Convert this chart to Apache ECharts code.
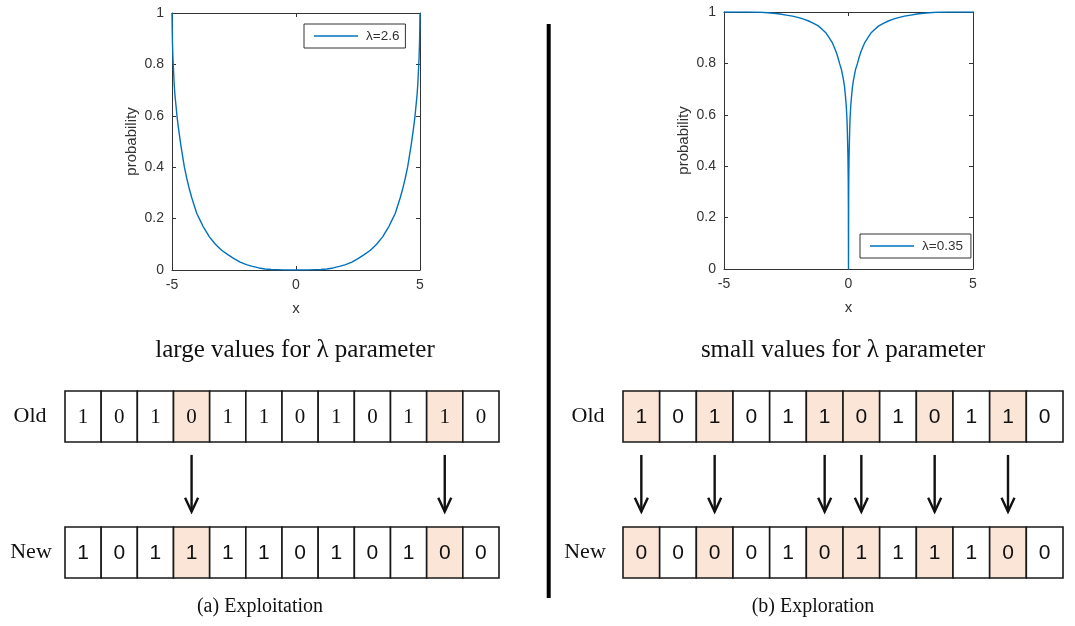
<!DOCTYPE html>
<html>
<head>
<meta charset="utf-8">
<title>Exploitation vs exploration</title>
<script src="https://cdn.jsdelivr.net/npm/echarts@6/dist/echarts.min.js"></script>
<style>
  html, body { margin: 0; padding: 0; background: #fff; }
  #chart { width: 1075px; height: 626px; }
</style>
</head>
<body>
<div id="chart"></div>
<script>
// Probability curve, large lambda (U shape)
const xHigh = [-5, -4.99, -4.98, -4.96, -4.94, -4.91, -4.88, -4.84, -4.8, -4.75, -4.7, -4.65, -4.6, -4.5, -4.4, -4.3, -4.2, -4.1, -4,
               -3.875, -3.75, -3.625, -3.5, -3.25, -3, -2.75, -2.5, -2.25, -2, -1.75, -1.5, -1.25, -1, -0.5, 0,
               0.5, 1, 1.25, 1.5, 1.75, 2, 2.25, 2.5, 2.75, 3, 3.25, 3.5, 3.625, 3.75, 3.875,
               4, 4.1, 4.2, 4.3, 4.4, 4.5, 4.6, 4.65, 4.7, 4.75, 4.8, 4.84, 4.88, 4.91, 4.94, 4.96, 4.98, 4.99, 5];
const pHigh = [1, 0.93, 0.88, 0.82, 0.78, 0.72, 0.68, 0.64, 0.6, 0.56, 0.525, 0.49, 0.46, 0.4, 0.355, 0.315, 0.28, 0.25, 0.22,
               0.195, 0.17, 0.15, 0.13, 0.1, 0.077, 0.06, 0.044, 0.031, 0.021, 0.014, 0.008, 0.004, 0.002, 0.0003, 0,
               0.0003, 0.002, 0.004, 0.008, 0.014, 0.021, 0.031, 0.044, 0.06, 0.077, 0.1, 0.13, 0.15, 0.17, 0.195,
               0.22, 0.25, 0.28, 0.315, 0.355, 0.4, 0.46, 0.49, 0.525, 0.56, 0.6, 0.64, 0.68, 0.72, 0.78, 0.82, 0.88, 0.93, 1];

// Probability curve, small lambda (narrow dip at zero)
const xLow = [-5, -4, -3.5, -3, -2.75, -2.5, -2.25, -2, -1.8, -1.6, -1.4, -1.2, -1.05, -0.9, -0.78, -0.66, -0.58, -0.5, -0.43, -0.36,
              -0.28, -0.2, -0.16, -0.12, -0.09, -0.06, -0.045, -0.03, -0.02, -0.01, -0.005, 0,
              0.005, 0.01, 0.02, 0.03, 0.045, 0.06, 0.09, 0.12, 0.16, 0.2, 0.28, 0.36, 0.43, 0.5, 0.58, 0.66, 0.78, 0.9,
              1.05, 1.2, 1.4, 1.6, 1.8, 2, 2.25, 2.5, 2.75, 3, 3.5, 4, 5];
const pLow = [1, 1, 0.999, 0.995, 0.992, 0.988, 0.984, 0.978, 0.972, 0.965, 0.956, 0.945, 0.932, 0.918, 0.9, 0.882, 0.865, 0.845, 0.825, 0.8,
              0.775, 0.735, 0.71, 0.67, 0.635, 0.58, 0.53, 0.47, 0.42, 0.34, 0.25, 0,
              0.25, 0.34, 0.42, 0.47, 0.53, 0.58, 0.635, 0.67, 0.71, 0.735, 0.775, 0.8, 0.825, 0.845, 0.865, 0.882, 0.9, 0.918,
              0.932, 0.945, 0.956, 0.965, 0.972, 0.978, 0.984, 0.988, 0.992, 0.995, 0.999, 1, 1];

const seriesNames = ['\u03bb=2.6', '\u03bb=0.35'];
const xTicks = [-5, 0, 5];
const yTickStep = 0.2;

// Bit strings before / after the mutation step
const exploitOld = [1, 0, 1, 0, 1, 1, 0, 1, 0, 1, 1, 0];
const exploitNew = [1, 0, 1, 1, 1, 1, 0, 1, 0, 1, 0, 0];
const exploreOld = [1, 0, 1, 0, 1, 1, 0, 1, 0, 1, 1, 0];
const exploreNew = [0, 0, 0, 0, 1, 0, 1, 1, 1, 1, 0, 0];

const rowLabels = ['Old', 'New'];
const panelTitles = ['large values for \u03bb parameter', 'small values for \u03bb parameter'];
const captions = ['(a) Exploitation', '(b) Exploration'];

const AXIS = '#333333';
const LINE = '#0072BD';
const HOT = '#FBE5D6';
const SANS = '"Liberation Sans", Arial, sans-serif';
const SERIF = '"Liberation Serif", "Times New Roman", serif';

// bit rows: old row occupies y in [8, 11], new row y in [0, 3]
const OLD_Y = 9.5, NEW_Y = 1.5;

function cellData(oldBits, newBits, which) {
  const bits = which === 'old' ? oldBits : newBits;
  return bits.map((b, i) => [i, which === 'old' ? OLD_Y : NEW_Y, b, oldBits[i] !== newBits[i] ? 1 : 0]);
}
function flipData(oldBits, newBits) {
  const out = [];
  oldBits.forEach((b, i) => { if (b !== newBits[i]) out.push([i, 5.5]); });
  return out;
}

function cellRenderer(fontFamily) {
  return function (params, api) {
    const c = api.coord([api.value(0), api.value(1)]);
    const s = api.size([1, 3]);
    return {
      type: 'group',
      children: [
        {
          type: 'rect',
          shape: { x: c[0] - s[0] / 2, y: c[1] - s[1] / 2, width: s[0], height: s[1] },
          style: { fill: api.value(3) ? HOT : '#ffffff', stroke: '#1a1a1a', lineWidth: 1.6 }
        },
        {
          type: 'text',
          x: c[0], y: c[1] + 1,
          style: {
            text: String(api.value(2)), fill: '#111',
            fontSize: 21, fontFamily: fontFamily,
            align: 'center', verticalAlign: 'middle'
          }
        }
      ]
    };
  };
}

function arrowRenderer(params, api) {
  const i = api.value(0);
  const top = api.coord([i, 7.24]);
  const bot = api.coord([i, 3.9]);
  const style = { stroke: '#111', lineWidth: 2.4, fill: 'none' };
  return {
    type: 'group',
    children: [
      { type: 'polyline', shape: { points: [[top[0], top[1]], [bot[0], bot[1]]] }, style },
      { type: 'polyline', shape: { points: [[bot[0] - 6.5, bot[1] - 14], [bot[0], bot[1]], [bot[0] + 6.5, bot[1] - 14]] }, style }
    ]
  };
}

function plotAxesX(gridIndex) {
  return [
    {
      gridIndex, type: 'value', min: xTicks[0], max: xTicks[xTicks.length - 1], interval: xTicks[1] - xTicks[0],
      position: 'bottom',
      axisLine: { onZero: false, lineStyle: { color: AXIS, width: 1 } },
      axisTick: { inside: true, length: 4, lineStyle: { color: AXIS } },
      axisLabel: { color: AXIS, fontSize: 14, fontFamily: SANS, margin: 8 },
      splitLine: { show: false },
      name: 'x', nameLocation: 'middle', nameGap: 31,
      nameTextStyle: { color: AXIS, fontSize: 15, fontFamily: SANS }
    },
    {
      gridIndex, type: 'value', min: xTicks[0], max: xTicks[xTicks.length - 1], interval: xTicks[1] - xTicks[0],
      position: 'top',
      axisLine: { onZero: false, lineStyle: { color: AXIS, width: 1 } },
      axisTick: { inside: true, length: 4, lineStyle: { color: AXIS } },
      axisLabel: { show: false },
      splitLine: { show: false }
    }
  ];
}
function plotAxesY(gridIndex) {
  return [
    {
      gridIndex, type: 'value', min: 0, max: 1, interval: yTickStep, position: 'left',
      axisLine: { show: true, onZero: false, lineStyle: { color: AXIS, width: 1 } },
      axisTick: { show: true, inside: true, length: 4, lineStyle: { color: AXIS } },
      axisLabel: { color: AXIS, fontSize: 14, fontFamily: SANS, margin: 8 },
      splitLine: { show: false },
      name: 'probability', nameLocation: 'middle', nameGap: 33, nameRotate: 90,
      nameTextStyle: { color: AXIS, fontSize: 15, fontFamily: SANS }
    },
    {
      gridIndex, type: 'value', min: 0, max: 1, interval: yTickStep, position: 'right',
      axisLine: { show: true, onZero: false, lineStyle: { color: AXIS, width: 1 } },
      axisTick: { show: true, inside: true, length: 4, lineStyle: { color: AXIS } },
      axisLabel: { show: false },
      splitLine: { show: false }
    }
  ];
}
const hiddenX = (gridIndex) => ({ gridIndex, type: 'value', min: -0.5, max: 11.5, show: false });
const hiddenY = (gridIndex) => ({ gridIndex, type: 'value', min: 0, max: 11, show: false });

const textEl = (text, x, y, size, family, align) => ({
  type: 'text', x, y, silent: true,
  style: { text, fontSize: size, fontFamily: family, fill: '#111', align: align || 'center', verticalAlign: 'middle' }
});

const legendBase = {
  orient: 'horizontal', icon: 'rect', itemWidth: 44, itemHeight: 1.6,
  borderColor: AXIS, borderWidth: 1, backgroundColor: '#fff', borderRadius: 0,
  textStyle: { color: AXIS, fontSize: 13.5, fontFamily: SANS, padding: [0, 0, 0, 3] },
  selectedMode: false
};

const option = {
  backgroundColor: '#ffffff',
  animation: false,
  grid: [
    { left: 172, top: 13, width: 248, height: 257 },
    { left: 724, top: 12, width: 249, height: 257 },
    { left: 65, top: 391, width: 434, height: 187 },
    { left: 623, top: 391, width: 440, height: 187 }
  ],
  xAxis: [...plotAxesX(0), ...plotAxesX(1), hiddenX(2), hiddenX(3)],
  yAxis: [...plotAxesY(0), ...plotAxesY(1), hiddenY(2), hiddenY(3)],
  legend: [
    Object.assign({}, legendBase, { data: [seriesNames[0]], left: 304, top: 24, padding: [5, 6, 5, 10] }),
    Object.assign({}, legendBase, { data: [seriesNames[1]], left: 860, top: 234, padding: [5, 8, 5, 10] })
  ],
  series: [
    {
      name: seriesNames[0], type: 'line', xAxisIndex: 0, yAxisIndex: 0,
      data: xHigh.map((x, i) => [x, pHigh[i]]),
      symbol: 'none', smooth: false,
      lineStyle: { color: LINE, width: 1.4, join: 'round' }, itemStyle: { color: LINE }, clip: true
    },
    {
      name: seriesNames[1], type: 'line', xAxisIndex: 2, yAxisIndex: 2,
      data: xLow.map((x, i) => [x, pLow[i]]),
      symbol: 'none', smooth: false,
      lineStyle: { color: LINE, width: 1.4, join: 'round' }, itemStyle: { color: LINE }, clip: true
    },
    { type: 'custom', xAxisIndex: 4, yAxisIndex: 4, clip: false, renderItem: cellRenderer(SERIF), data: cellData(exploitOld, exploitNew, 'old') },
    { type: 'custom', xAxisIndex: 4, yAxisIndex: 4, clip: false, renderItem: cellRenderer(SANS), data: cellData(exploitOld, exploitNew, 'new') },
    { type: 'custom', xAxisIndex: 4, yAxisIndex: 4, clip: false, renderItem: arrowRenderer, data: flipData(exploitOld, exploitNew) },
    { type: 'custom', xAxisIndex: 5, yAxisIndex: 5, clip: false, renderItem: cellRenderer(SANS), data: cellData(exploreOld, exploreNew, 'old') },
    { type: 'custom', xAxisIndex: 5, yAxisIndex: 5, clip: false, renderItem: cellRenderer(SANS), data: cellData(exploreOld, exploreNew, 'new') },
    { type: 'custom', xAxisIndex: 5, yAxisIndex: 5, clip: false, renderItem: arrowRenderer, data: flipData(exploreOld, exploreNew) }
  ],
  graphic: [
    { type: 'line', silent: true, shape: { x1: 548.7, y1: 24, x2: 548.7, y2: 598 }, style: { stroke: '#000', lineWidth: 4 } },
    textEl(panelTitles[0], 295, 350, 25, SERIF),
    textEl(panelTitles[1], 843, 350, 25, SERIF),
    textEl(rowLabels[0], 30, 416, 22, SERIF),
    textEl(rowLabels[1], 31, 552, 22, SERIF),
    textEl(rowLabels[0], 588, 416, 22, SERIF),
    textEl(rowLabels[1], 585, 552, 22, SERIF),
    textEl(captions[0], 260, 607, 20, SERIF),
    textEl(captions[1], 813, 607, 20, SERIF)
  ]
};

const chart = echarts.init(document.getElementById('chart'), null, { renderer: 'canvas' });
chart.setOption(option);
</script>
</body>
</html>
